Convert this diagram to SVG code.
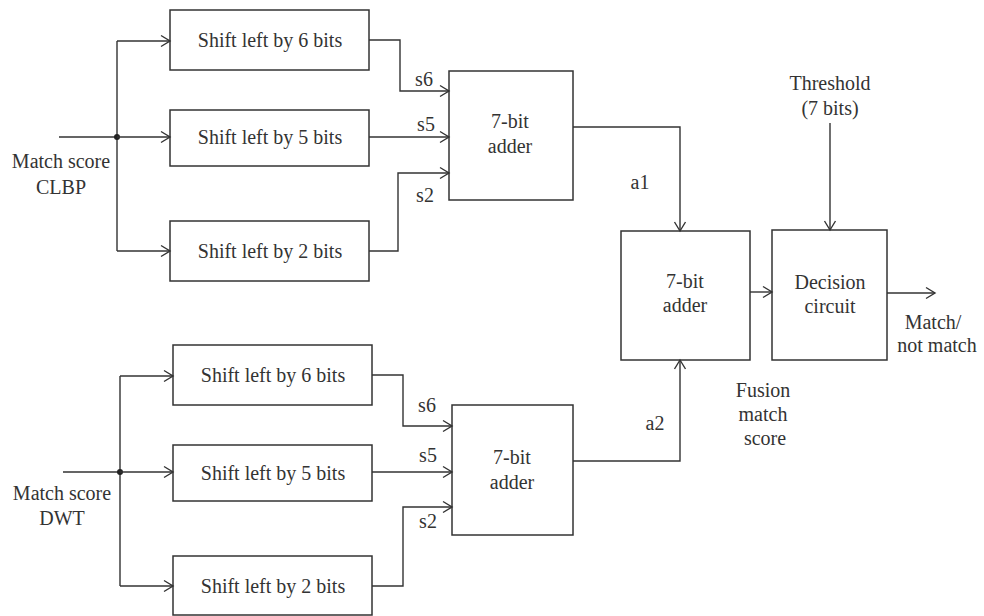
<svg xmlns="http://www.w3.org/2000/svg" width="984" height="616" viewBox="0 0 984 616">
  <style>
    .box { fill: #ffffff; stroke: #333333; stroke-width: 1.5; }
    .lbl { font-family: "Liberation Serif", "Times New Roman", serif; font-size: 20px; fill: #333333; text-anchor: middle; }
    .wire { fill: none; stroke: #333333; stroke-width: 1.4; }
    .arr { fill: none; stroke: #333333; stroke-width: 1.4; marker-end: url(#chev); }
  </style>
  <defs>
    <!-- open chevron arrowhead -->
    <marker id="chev" markerUnits="userSpaceOnUse" markerWidth="12" markerHeight="14" refX="10" refY="6" orient="auto" viewBox="0 0 12 12">
      <path d="M1,0.5 L10,6 L1,11.5" fill="none" stroke="#333333" stroke-width="1.4"/>
    </marker>
  </defs>

  <rect width="984" height="616" fill="#ffffff"/>

  <!-- CLBP branch -->
  <g id="clbp-input">
    <text class="lbl" x="61" y="168">Match score</text>
    <text class="lbl" x="61" y="194">CLBP</text>
  </g>
  <g id="clbp-shift6">
    <rect class="box" x="170" y="10" width="199" height="60"/>
    <text class="lbl" x="270" y="47">Shift left by 6 bits</text>
  </g>
  <g id="clbp-shift5">
    <rect class="box" x="170" y="110" width="199" height="56"/>
    <text class="lbl" x="270" y="144">Shift left by 5 bits</text>
  </g>
  <g id="clbp-shift2">
    <rect class="box" x="170" y="221" width="199" height="60"/>
    <text class="lbl" x="270" y="258">Shift left by 2 bits</text>
  </g>
  <g id="adder-clbp">
    <rect class="box" x="449" y="71" width="124" height="129"/>
    <text class="lbl" x="510" y="128">7-bit</text>
    <text class="lbl" x="510" y="153">adder</text>
  </g>

  <!-- DWT branch -->
  <g id="dwt-input">
    <text class="lbl" x="62" y="500">Match score</text>
    <text class="lbl" x="62" y="525">DWT</text>
  </g>
  <g id="dwt-shift6">
    <rect class="box" x="173" y="345" width="199" height="60"/>
    <text class="lbl" x="273" y="382">Shift left by 6 bits</text>
  </g>
  <g id="dwt-shift5">
    <rect class="box" x="173" y="445" width="199" height="56"/>
    <text class="lbl" x="273" y="480">Shift left by 5 bits</text>
  </g>
  <g id="dwt-shift2">
    <rect class="box" x="173" y="556" width="199" height="59"/>
    <text class="lbl" x="273" y="593">Shift left by 2 bits</text>
  </g>
  <g id="adder-dwt">
    <rect class="box" x="452" y="405" width="121" height="130"/>
    <text class="lbl" x="512" y="464">7-bit</text>
    <text class="lbl" x="512" y="489">adder</text>
  </g>

  <!-- Fusion and decision -->
  <g id="adder-fusion">
    <rect class="box" x="621" y="231" width="129" height="129"/>
    <text class="lbl" x="685" y="288">7-bit</text>
    <text class="lbl" x="685" y="312">adder</text>
  </g>
  <g id="decision">
    <rect class="box" x="772" y="230" width="115" height="130"/>
    <text class="lbl" x="830" y="289">Decision</text>
    <text class="lbl" x="830" y="313">circuit</text>
  </g>
  <g id="threshold">
    <text class="lbl" x="830" y="90">Threshold</text>
    <text class="lbl" x="830" y="115">(7 bits)</text>
  </g>
  <g id="output">
    <text class="lbl" x="933" y="329">Match/</text>
    <text class="lbl" x="937" y="352">not match</text>
  </g>
  <g id="fusion-label">
    <text class="lbl" x="763" y="397">Fusion</text>
    <text class="lbl" x="763" y="421">match</text>
    <text class="lbl" x="765" y="445">score</text>
  </g>

  <!-- Connectors -->
  <g id="connectors">
    <!-- CLBP fan-out -->
    <path class="wire" d="M59,137 H117 M117,41 V251"/>
    <circle cx="117" cy="137" r="3" fill="#222222"/>
    <path class="arr" d="M117,41 H170"/>
    <path class="arr" d="M117,137 H170"/>
    <path class="arr" d="M117,251 H170"/>
    <!-- CLBP shifts to adder -->
    <path class="arr" d="M369,40 H400 V91 H449"/>
    <path class="arr" d="M369,137 H449"/>
    <path class="arr" d="M369,251 H398 V173 H449"/>
    <text class="lbl" x="424" y="86">s6</text>
    <text class="lbl" x="426" y="131">s5</text>
    <text class="lbl" x="425" y="202">s2</text>

    <!-- DWT fan-out -->
    <path class="wire" d="M63,472 H120 M120,376 V586"/>
    <circle cx="120" cy="472" r="3" fill="#222222"/>
    <path class="arr" d="M120,376 H173"/>
    <path class="arr" d="M120,472 H173"/>
    <path class="arr" d="M120,586 H173"/>
    <!-- DWT shifts to adder -->
    <path class="arr" d="M372,375 H403 V426 H452"/>
    <path class="arr" d="M372,472 H452"/>
    <path class="arr" d="M372,586 H403 V507 H452"/>
    <text class="lbl" x="427" y="412">s6</text>
    <text class="lbl" x="428" y="462">s5</text>
    <text class="lbl" x="428" y="528">s2</text>

    <!-- Partial sums to fusion adder -->
    <path class="arr" d="M573,127 H680 V231"/>
    <text class="lbl" x="640" y="189">a1</text>
    <path class="arr" d="M573,461 H680 V360"/>
    <text class="lbl" x="655" y="430">a2</text>

    <!-- Fusion to decision and output -->
    <path class="arr" d="M750,292 H772"/>
    <path class="arr" d="M830,123 V230"/>
    <path class="arr" d="M887,293 H935"/>
  </g>
</svg>
